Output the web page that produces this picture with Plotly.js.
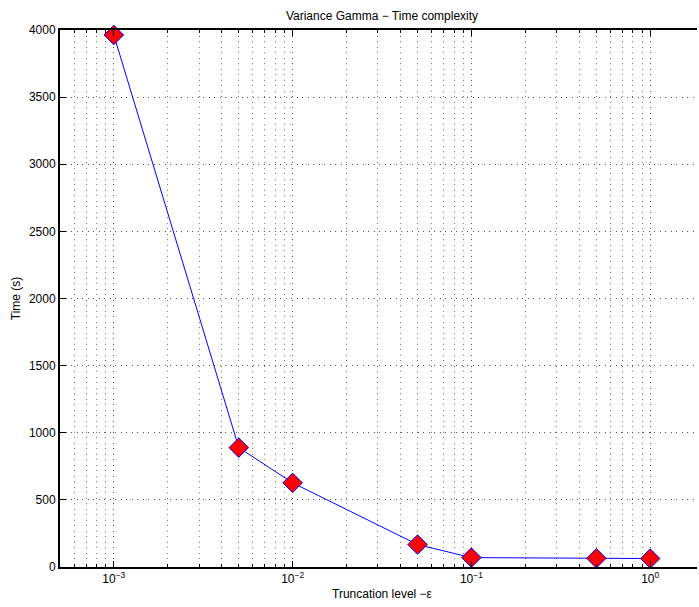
<!DOCTYPE html>
<html>
<head>
<meta charset="utf-8">
<script src="https://cdn.plot.ly/plotly-3.0.1.min.js"></script>
<style>
html,body{margin:0;padding:0;background:#fff;overflow:hidden;width:699px;height:607px;position:relative;}
#chart{width:710px;height:607px;}
#edge{position:absolute;left:697px;top:0;width:2px;height:607px;background:#fff;z-index:10;}
</style>
</head>
<body>
<div id="chart"></div>
<div id="edge"></div>
<script>
const truncationLevels = [0.001, 0.005, 0.01, 0.05, 0.1, 0.5, 1];
const timeSeconds = [3963, 889, 627, 167, 70, 65, 63];
const xTickVals = [0.001, 0.01, 0.1, 1];
const xTickText = ['10<sup>\u22123</sup>', '10<sup>\u22122</sup>', '10<sup>\u22121</sup>', '10<sup>0</sup>'];
const yTickVals = [0, 500, 1000, 1500, 2000, 2500, 3000, 3500, 4000];

const font = {family: 'Liberation Sans, Arial, Helvetica, sans-serif', size: 12, color: '#000'};

const trace = {
  x: truncationLevels,
  y: timeSeconds,
  type: 'scatter',
  mode: 'lines+markers',
  line: {color: '#0000ff', width: 1},
  marker: {symbol: 'diamond', size: 15, color: '#ff0000', line: {color: '#0000ff', width: 1}},
  cliponaxis: false,
  hoverinfo: 'x+y'
};

const gridDash = '1px,4.5px';

const layout = {
  width: 710,
  height: 607,
  paper_bgcolor: '#fff',
  plot_bgcolor: '#fff',
  font: font,
  showlegend: false,
  margin: {l: 60, r: 6, t: 30, b: 40, pad: 0},
  title: {
    text: 'Variance Gamma \u2212 Time complexity',
    font: font,
    xref: 'container', x: 382 / 710, xanchor: 'center',
    yref: 'container', y: 1 - 16 / 607, yanchor: 'middle'
  },
  xaxis: {
    type: 'log',
    range: [Math.log10(0.0005), Math.log10(2)],
    tickvals: xTickVals,
    ticktext: xTickText,
    ticks: 'inside',
    ticklen: 6,
    tickcolor: '#000',
    tickwidth: 1,
    showline: true,
    linecolor: '#000',
    linewidth: 2,
    mirror: 'ticks',
    showgrid: true,
    gridcolor: '#555',
    griddash: gridDash,
    gridwidth: 1,
    zeroline: false,
    tickfont: font,
    minor: {
      dtick: 'D1',
      ticks: 'inside',
      ticklen: 3,
      tickcolor: '#000',
      showgrid: true,
      gridcolor: '#777',
      griddash: gridDash,
      gridwidth: 1
    },
    title: {text: 'Truncation level \u2212\u03b5', font: font, standoff: 4},
    automargin: false
  },
  yaxis: {
    range: [0, 4000],
    tickvals: yTickVals,
    ticks: 'inside',
    ticklen: 6,
    tickcolor: '#000',
    showline: true,
    linecolor: '#000',
    linewidth: 2,
    mirror: false,
    showgrid: true,
    gridcolor: '#555',
    griddash: gridDash,
    gridwidth: 1,
    zeroline: false,
    tickfont: font,
    title: {text: 'Time (s)', font: font, standoff: 6},
    automargin: false
  }
};

Plotly.newPlot('chart', [trace], layout, {displayModeBar: false, staticPlot: true});
</script>
</body>
</html>
